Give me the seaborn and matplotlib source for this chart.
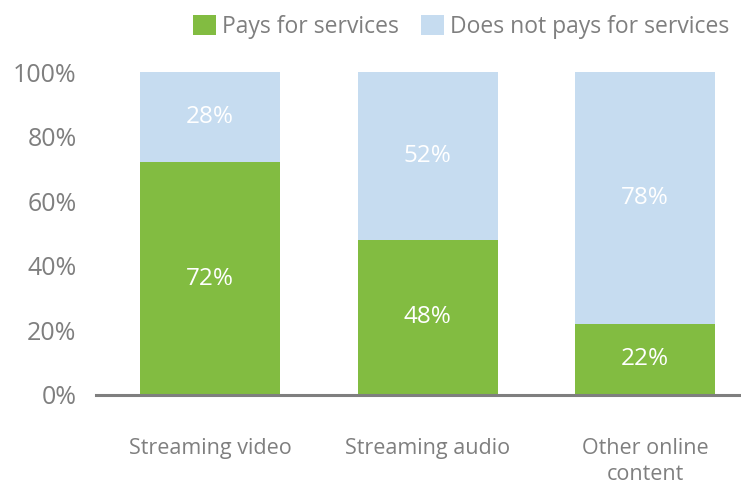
import matplotlib
matplotlib.use("Agg")
import matplotlib.pyplot as plt
from matplotlib.patches import Patch
import seaborn as sns
import pandas as pd

categories = ["Streaming video", "Streaming audio", "Other online\ncontent"]
pays = [72, 48, 22]
not_pays = [28, 52, 78]
series_names = ["Pays for services", "Does not pays for services"]
y_ticks = [0, 20, 40, 60, 80, 100]

green = "#82BC41"
blue = "#C6DCF0"
grey = "#7F7F7F"

sns.set_theme(style="white")
plt.rcParams["font.family"] = ["Open Sans", "DejaVu Sans"]

df = pd.DataFrame({"category": categories, "pays": pays, "not_pays": not_pays})
df["total"] = df["pays"] + df["not_pays"]

fig = plt.figure(figsize=(7.41, 4.87), dpi=100)
ax = fig.add_axes([96 / 741, 92 / 487, 1 - 96 / 741, (395 - 72) / 487])

sns.barplot(data=df, x="category", y="total", color=blue, width=0.645,
            saturation=1, linewidth=0, ax=ax)
sns.barplot(data=df, x="category", y="pays", color=green, width=0.645,
            saturation=1, linewidth=0, ax=ax)

for i, (p, n) in enumerate(zip(pays, not_pays)):
    ax.text(i, p / 2, f"{p}%", ha="center", va="center", color="white", fontsize=17.5)
    ax.text(i, p + n / 2, f"{n}%", ha="center", va="center", color="white", fontsize=17.5)

ax.set_xlim(-0.525, 2.44)
ax.set_ylim(0, 100)
ax.set_yticks(y_ticks)
ax.set_yticklabels([f"{t}%" for t in y_ticks], fontsize=18, color=grey)
ax.tick_params(axis="y", length=0, pad=14)
ax.tick_params(axis="x", length=0, pad=31, labelsize=15.5, labelcolor=grey)
for lbl in ax.get_xticklabels():
    lbl.set_linespacing(1.3)
ax.set_xlabel("")
ax.set_ylabel("")
for s in ["top", "right", "left"]:
    ax.spines[s].set_visible(False)
ax.spines["bottom"].set_color(grey)
ax.spines["bottom"].set_linewidth(2.2)

handles = [Patch(facecolor=green, edgecolor="none"), Patch(facecolor=blue, edgecolor="none")]
fig.legend(handles, series_names, loc="upper right", bbox_to_anchor=(1.012, 1.012),
           ncol=2, frameon=False, fontsize=16.5, labelcolor=grey,
           handlelength=1.0, handleheight=1.0, handletextpad=0.25, columnspacing=1.0)

fig.savefig("out.png", dpi=100)
